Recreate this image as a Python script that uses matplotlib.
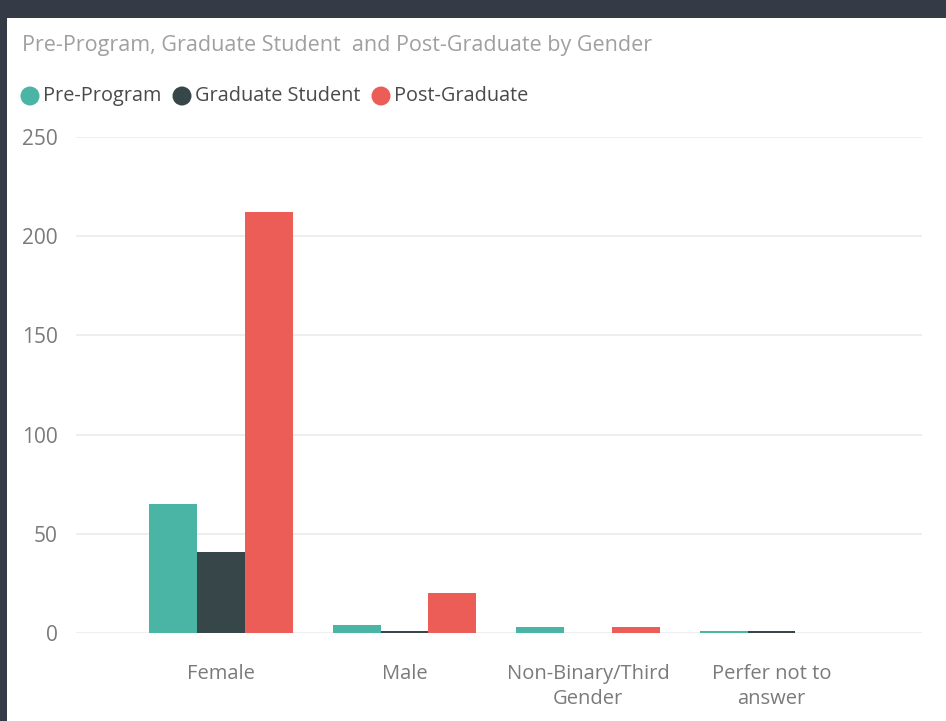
import numpy as np
import matplotlib.pyplot as plt
from matplotlib.patches import Rectangle, Ellipse

categories = ['Female', 'Male', 'Non-Binary/Third\nGender', 'Perfer not to\nanswer']
series_names = ['Pre-Program', 'Graduate Student', 'Post-Graduate']
pre_program = [65, 4, 3, 1]
graduate_student = [41, 1, 0, 1]
post_graduate = [212, 20, 3, 0]
colors = ['#4ab5a5', '#374649', '#ec5d57']

W, H = 946, 721
plt.rcParams['font.family'] = ['Open Sans', 'DejaVu Sans']

fig = plt.figure(figsize=(W / 100, H / 100), dpi=100, facecolor='#343b46')
# white panel inside the dark frame
fig.patches.append(Rectangle((7 / W, 0), 1, (H - 18) / H, transform=fig.transFigure,
                             facecolor='white', edgecolor='none', zorder=-5))

ax = fig.add_axes([76 / W, (H - 633) / H, (922 - 76) / W, (633 - 137) / H])
ax.set_facecolor('none')
ax.set_zorder(2)

x = np.arange(len(categories))
bw = 0.26
for i, vals in enumerate([pre_program, graduate_student, post_graduate]):
    ax.bar(x + (i - 1) * bw, vals, width=bw, color=colors[i], zorder=3)

ax.set_ylim(0, 250)
ax.set_xlim(-0.79, 3.82)
ax.set_yticks([0, 50, 100, 150, 200, 250])
ax.yaxis.grid(True, color='#ebebeb', linewidth=1.2, zorder=0)
ax.set_xticks(x)
ax.set_xticklabels(categories, fontsize=14.5, color='#7a7a7a', linespacing=1.35)
ax.tick_params(axis='y', labelsize=15, labelcolor='#7a7a7a', length=0, pad=13)
ax.tick_params(axis='x', length=0, pad=22)
for s in ax.spines.values():
    s.set_visible(False)

fig.text(22 / W, 1 - 45 / H, 'Pre-Program, Graduate Student  and Post-Graduate by Gender',
         fontsize=15.5, color='#a0a0a0', va='center', ha='left')

# legend
leg_x = [30, 182, 381]
for cx, name, c in zip(leg_x, series_names, colors):
    fig.patches.append(Ellipse((cx / W, 1 - 96 / H), 19 / W, 19 / H, transform=fig.transFigure,
                               facecolor=c, edgecolor='none'))
    fig.text((cx + 13) / W, 1 - 96 / H, name, fontsize=14.3, color='#4a4a4a',
             va='center', ha='left')

fig.savefig('out.png', dpi=100, facecolor=fig.get_facecolor())
